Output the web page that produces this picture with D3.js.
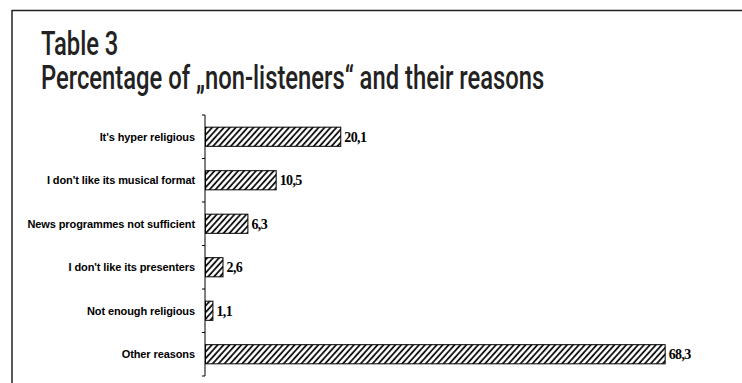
<!DOCTYPE html>
<html>
<head>
<meta charset="utf-8">
<script src="https://cdn.jsdelivr.net/npm/d3@7/dist/d3.min.js"></script>
<style>
  body { margin: 0; background: #fff; }
  svg { display: block; }
</style>
</head>
<body>
<div id="chart-area"></div>
<script>
// chart data
const categories = [
  "It's hyper religious",
  "I don't like its musical format",
  "News programmes not sufficient",
  "I don't like its presenters",
  "Not enough religious",
  "Other reasons"
]
const values = [20.1, 10.5, 6.3, 2.6, 1.1, 68.3]
const titleLines = ["Table 3", "Percentage of \u201Enon-listeners\u201C and their reasons"]

const W = 742, H = 383
const MARGIN = { LEFT: 205, TOP: 115, BOTTOM: 7 }

const svg = d3.select("#chart-area").append("svg")
  .attr("width", W)
  .attr("height", H)

// hatch fill
const defs = svg.append("defs")
const pat = defs.append("pattern")
  .attr("id", "hatch")
  .attr("patternUnits", "userSpaceOnUse")
  .attr("width", 4.4)
  .attr("height", 10)
  .attr("patternTransform", "rotate(42)")
pat.append("rect").attr("width", 4.4).attr("height", 10).attr("fill", "#fff")
pat.append("line")
  .attr("x1", 1).attr("y1", 0).attr("x2", 1).attr("y2", 10)
  .attr("stroke", "#000")
  .attr("stroke-width", 1.7)

// frame (top and left only)
svg.append("line")
  .attr("x1", 12).attr("y1", 10.5).attr("x2", W).attr("y2", 10.5)
  .attr("stroke", "#222").attr("stroke-width", 1.5)
svg.append("line")
  .attr("x1", 12).attr("y1", 10).attr("x2", 12).attr("y2", H)
  .attr("stroke", "#222").attr("stroke-width", 1.5)

// title, condensed look by squeezing horizontally
const title = svg.append("g")
  .attr("transform", "translate(41, 0) scale(0.7, 1)")
  .append("text")
  .attr("font-family", "Roboto, 'DejaVu Sans', sans-serif")
  .attr("font-weight", 500)
  .attr("font-size", "34px")
  .attr("fill", "#222")
title.selectAll("tspan")
  .data(titleLines)
  .enter().append("tspan")
  .attr("x", 0)
  .attr("y", (d, i) => 55 + i * 34)
  .text(d => d)

// scales
const x = d3.scaleLinear().domain([0, 1]).range([0, 6.73])
const y = d3.scaleBand()
  .domain(categories)
  .range([MARGIN.TOP, H - MARGIN.BOTTOM])
  .paddingInner(0.56)
  .paddingOuter(0.28)

// y axis with ticks at band boundaries
const axisX = MARGIN.LEFT
svg.append("line")
  .attr("x1", axisX).attr("x2", axisX)
  .attr("y1", MARGIN.TOP).attr("y2", H - MARGIN.BOTTOM)
  .attr("stroke", "#000").attr("stroke-width", 1)
const step = y.step()
svg.selectAll(".tick")
  .data(d3.range(categories.length + 1))
  .enter().append("line")
  .attr("class", "tick")
  .attr("x1", axisX - 3).attr("x2", axisX)
  .attr("y1", i => MARGIN.TOP + i * step)
  .attr("y2", i => MARGIN.TOP + i * step)
  .attr("stroke", "#000")

// category labels
svg.selectAll(".cat")
  .data(categories)
  .enter().append("text")
  .attr("class", "cat")
  .attr("x", axisX - 10)
  .attr("y", d => y(d) + y.bandwidth() / 2)
  .attr("dy", "0.35em")
  .attr("text-anchor", "end")
  .attr("font-family", "'Liberation Sans', Arial, sans-serif")
  .attr("font-weight", "bold")
  .attr("font-size", "11px")
  .attr("letter-spacing", "-0.1px")
  .attr("fill", "#000")
  .text(d => d)

// bars
svg.selectAll(".bar")
  .data(values)
  .enter().append("rect")
  .attr("class", "bar")
  .attr("x", axisX + 0.5)
  .attr("y", (d, i) => y(categories[i]))
  .attr("width", d => x(d))
  .attr("height", y.bandwidth())
  .attr("fill", "url(#hatch)")
  .attr("stroke", "#000")
  .attr("stroke-width", 1)

// value labels
svg.selectAll(".val")
  .data(values)
  .enter().append("text")
  .attr("class", "val")
  .attr("x", d => axisX + x(d) + 4)
  .attr("y", (d, i) => y(categories[i]) + y.bandwidth() / 2)
  .attr("dy", "0.35em")
  .attr("font-family", "'Liberation Serif', 'Times New Roman', serif")
  .attr("font-weight", "bold")
  .attr("font-size", "14px")
  .attr("letter-spacing", "-0.6px")
  .attr("fill", "#000")
  .text(d => d3.format(".1f")(d).replace(".", ","))
</script>
</body>
</html>
